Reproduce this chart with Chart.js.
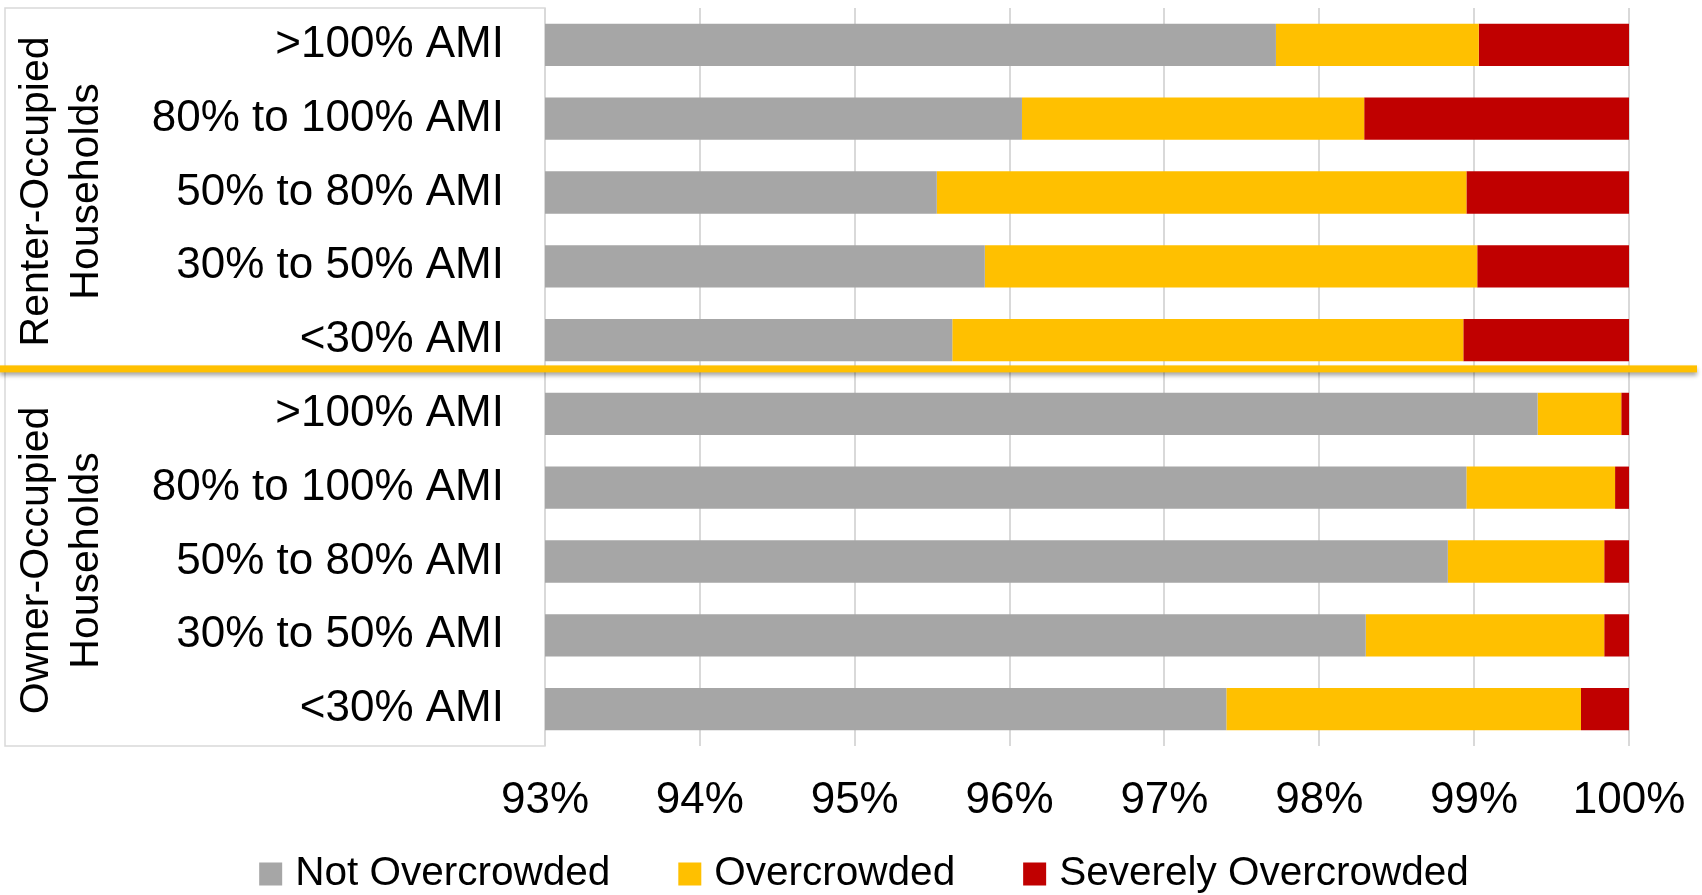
<!DOCTYPE html>
<html>
<head>
<meta charset="utf-8">
<title>Overcrowding by Tenure and Income</title>
<script src="https://cdn.jsdelivr.net/npm/chart.js@4/dist/chart.umd.min.js"></script>
<style>
  html, body { margin: 0; padding: 0; background: #ffffff; }
  #wrap { width: 1702px; height: 895px; }
</style>
</head>
<body>
<div id="wrap"><canvas id="chart" width="1702" height="895"></canvas></div>
<script>
// Income bands, listed top to bottom within each tenure group
const incomeBands = ['>100% AMI', '80% to 100% AMI', '50% to 80% AMI', '30% to 50% AMI', '<30% AMI'];
const tenureGroups = [['Renter-Occupied', 'Households'], ['Owner-Occupied', 'Households']];
const categories = [...incomeBands, ...incomeBands];

// Share of households (%), renters first then owners
const notOvercrowded      = [97.72, 96.08, 95.53, 95.84, 95.63, 99.41, 98.95, 98.83, 98.30, 97.40];
const overcrowded         = [1.31, 2.21, 3.42, 3.18, 3.30, 0.54, 0.96, 1.01, 1.54, 2.29];
const severelyOvercrowded = [0.97, 1.71, 1.05, 0.98, 1.07, 0.05, 0.09, 0.16, 0.16, 0.31];

const seriesNames = ['Not Overcrowded', 'Overcrowded', 'Severely Overcrowded'];
const xTicks = [93, 94, 95, 96, 97, 98, 99, 100];

const FONT = '"Liberation Sans", Arial, sans-serif';

// Draws the tenure group boxes with their rotated titles, and the divider between groups
const tenurePanels = {
  id: 'tenurePanels',
  splitY(chart) {
    const y = chart.scales.y;
    const step = y.getPixelForValue(1) - y.getPixelForValue(0);
    return y.getPixelForValue(incomeBands.length - 1) + step * 0.39;
  },
  beforeDraw(chart) {
    const { ctx, chartArea } = chart;
    const split = this.splitY(chart);
    const left = 5, right = chartArea.left;
    ctx.save();
    ctx.fillStyle = '#ffffff';
    ctx.fillRect(left, chartArea.top, right - left, chartArea.bottom - chartArea.top);
    ctx.strokeStyle = '#d9d9d9';
    ctx.lineWidth = 1.5;
    ctx.strokeRect(left, chartArea.top, right - left, split - chartArea.top);
    ctx.strokeRect(left, split, right - left, chartArea.bottom - split);

    ctx.fillStyle = '#000000';
    ctx.font = '41px ' + FONT;
    ctx.textAlign = 'center';
    ctx.textBaseline = 'alphabetic';
    const bands = [[chartArea.top, split], [split, chartArea.bottom]];
    tenureGroups.forEach((lines, i) => {
      const cy = (bands[i][0] + bands[i][1]) / 2 + 3;
      ctx.save();
      ctx.translate(0, cy);
      ctx.rotate(-Math.PI / 2);
      lines.forEach((text, k) => ctx.fillText(text, 0, 48 + 50 * k));
      ctx.restore();
    });
    ctx.restore();
  },
  afterDraw(chart) {
    const { ctx } = chart;
    const split = this.splitY(chart);
    ctx.save();
    ctx.shadowColor = 'rgba(0, 0, 0, 0.35)';
    ctx.shadowBlur = 4;
    ctx.shadowOffsetY = 3;
    ctx.fillStyle = '#ffc000';
    ctx.fillRect(0, split - 3.5, 1697, 7);
    ctx.restore();
  }
};

// Single-row legend under the axis, built from the dataset labels and colours
const legendRow = {
  id: 'legendRow',
  afterDraw(chart) {
    const { ctx } = chart;
    const swatch = 23, gap = 13, spacing = 68;
    const cy = chart.scales.x.bottom + 48;
    ctx.save();
    ctx.font = '40.5px ' + FONT;
    ctx.textAlign = 'left';
    ctx.textBaseline = 'middle';
    const items = chart.data.datasets.map(ds => ({
      text: ds.label,
      color: ds.backgroundColor,
      width: ctx.measureText(ds.label).width
    }));
    const total = items.reduce((s, it) => s + swatch + gap + it.width, 0) + spacing * (items.length - 1);
    let x = chart.width / 2 + 13 - total / 2;
    items.forEach(it => {
      ctx.fillStyle = it.color;
      ctx.fillRect(x, cy - swatch / 2, swatch, swatch);
      ctx.fillStyle = '#000000';
      ctx.fillText(it.text, x + swatch + gap, cy);
      x += swatch + gap + it.width + spacing;
    });
    ctx.restore();
  }
};

new Chart(document.getElementById('chart'), {
  type: 'bar',
  data: {
    labels: categories,
    datasets: [
      { label: seriesNames[0], data: notOvercrowded, backgroundColor: '#a6a6a6' },
      { label: seriesNames[1], data: overcrowded, backgroundColor: '#ffc000' },
      { label: seriesNames[2], data: severelyOvercrowded, backgroundColor: '#c00000' }
    ]
  },
  options: {
    indexAxis: 'y',
    responsive: false,
    animation: false,
    devicePixelRatio: 1,
    categoryPercentage: 1,
    barPercentage: 0.573,
    layout: { padding: { top: 8, right: 73, bottom: 69, left: 106 } },
    scales: {
      x: {
        stacked: true,
        min: xTicks[0],
        max: xTicks[xTicks.length - 1],
        afterBuildTicks: s => { s.ticks = xTicks.map(v => ({ value: v })); },
        afterFit: s => { s.height = 80; },
        grid: { color: '#d9d9d9', lineWidth: 2, drawTicks: false },
        border: { display: false },
        ticks: {
          padding: 0,
          color: '#000000',
          font: { family: FONT, size: 44, lineHeight: 2.5 },
          callback: v => v + '%'
        }
      },
      y: {
        stacked: true,
        afterFit: s => { s.width = 439; },
        grid: { display: false, drawTicks: true, tickLength: 41 },
        border: { display: false },
        ticks: {
          padding: 0,
          color: '#000000',
          font: { family: FONT, size: 44, lineHeight: 0.3 }
        }
      }
    },
    plugins: {
      legend: { display: false },
      tooltip: { enabled: false }
    }
  },
  plugins: [tenurePanels, legendRow]
});
</script>
</body>
</html>
